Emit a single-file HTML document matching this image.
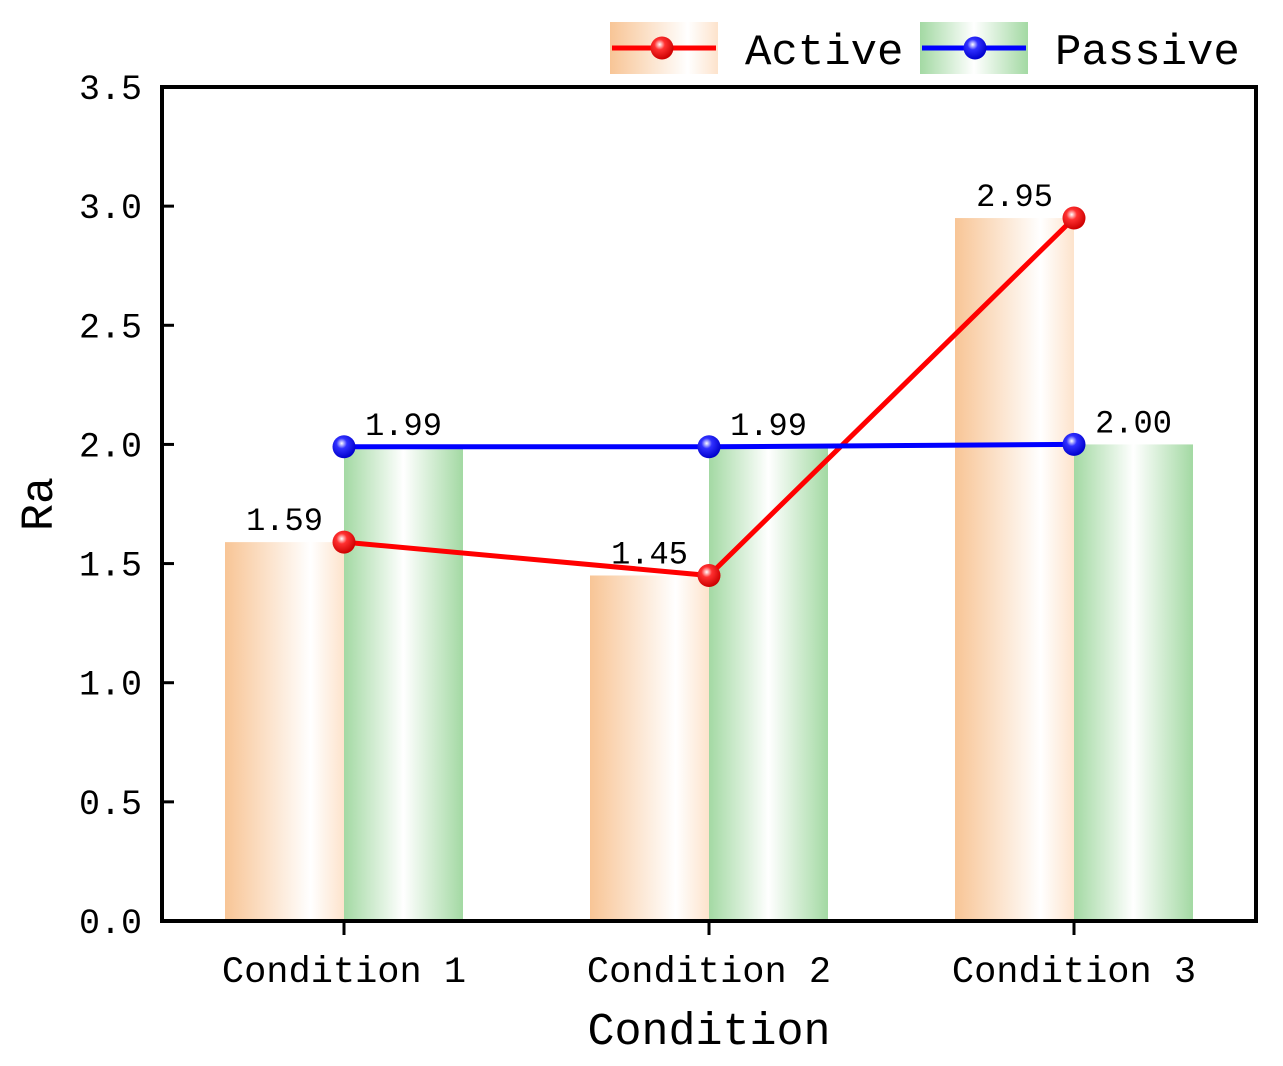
<!DOCTYPE html>
<html><head><meta charset="utf-8"><style>
body{margin:0;background:#fff;}
svg{display:block;font-family:"Liberation Mono","Noto Serif CJK SC",monospace;}
</style></head><body>
<svg id="chart" width="1283" height="1066" viewBox="0 0 1283 1066">
<defs>
<linearGradient id="gOr" x1="0" x2="1" y1="0" y2="0"><stop offset="0" stop-color="#f8c596"/><stop offset="0.72" stop-color="#ffffff"/><stop offset="1" stop-color="#fde3cc"/></linearGradient>
<linearGradient id="gGr" x1="0" x2="1" y1="0" y2="0"><stop offset="0" stop-color="#a3d9a3"/><stop offset="0.5" stop-color="#ffffff"/><stop offset="1" stop-color="#a3d9a3"/></linearGradient>
<radialGradient id="mR" cx="0.4" cy="0.35" r="0.65"><stop offset="0" stop-color="#fff"/><stop offset="0.35" stop-color="#ff3030"/><stop offset="1" stop-color="#c00"/></radialGradient>
<radialGradient id="mB" cx="0.4" cy="0.35" r="0.65"><stop offset="0" stop-color="#fff"/><stop offset="0.35" stop-color="#3030ff"/><stop offset="1" stop-color="#00c"/></radialGradient>
</defs>
<g id="plot"></g>
</svg>
<script>
const categories=["Condition 1","Condition 2","Condition 3"];
const activeVals=[1.59,1.45,2.95];
const passiveVals=[1.99,1.99,2.00];
const yTicks=[0,0.5,1.0,1.5,2.0,2.5,3.0,3.5];
const L=162,R=1256,T=87,B=921,yMax=3.5;
const ns="http://www.w3.org/2000/svg";
const g=document.getElementById('plot');
const y=v=>B-(v/yMax)*(B-T);
const xc=i=>344+i*365;
const bw=119;
function mk(t,a,parent){const e=document.createElementNS(ns,t);for(const k in a)e.setAttribute(k,a[k]);(parent||g).appendChild(e);return e;}
categories.forEach((c,i)=>{
 const a=mk('rect',{x:xc(i)-bw,y:y(activeVals[i]),width:bw,height:B-y(activeVals[i]),fill:'url(#gOr)'});
 
 
 const p=mk('rect',{x:xc(i),y:y(passiveVals[i]),width:bw,height:B-y(passiveVals[i]),fill:'url(#gGr)'});
 
 
});
function line(vals,col,grad,name){
 const pl=mk('polyline',{points:vals.map((v,i)=>xc(i)+','+y(v)).join(' '),fill:'none',stroke:col,'stroke-width':5});
 
 
 vals.forEach((v,i)=>{
  const c=mk('circle',{cx:xc(i),cy:y(v),r:11.5,fill:'url(#'+grad+')'});
  
  
 });
}
line(activeVals,'#f00','mR','active');
line(passiveVals,'#00f','mB','passive');
activeVals.forEach((v,i)=>{
 const t=mk('text',{x:xc(i)-bw/2,y:y(v)-12,'font-size':32,'text-anchor':'middle'});t.textContent=v.toFixed(2);
 
 
});
passiveVals.forEach((v,i)=>{
 const t=mk('text',{x:xc(i)+bw/2,y:y(v)-12,'font-size':32,'text-anchor':'middle'});t.textContent=v.toFixed(2);
 
 
});
const fr=mk('rect',{x:L,y:T,width:R-L,height:B-T,fill:'none',stroke:'#000','stroke-width':4});


yTicks.forEach(v=>{
 mk('line',{x1:L,x2:L+12,y1:y(v),y2:y(v),stroke:'#000','stroke-width':3});
 const t=mk('text',{x:L-20,y:y(v)+12,'font-size':35,'text-anchor':'end'});t.textContent=v.toFixed(1);
 
 
});
categories.forEach((c,i)=>{
 mk('line',{x1:xc(i),x2:xc(i),y1:B,y2:B+14,stroke:'#000','stroke-width':3});
 const t=mk('text',{x:xc(i),y:982,'font-size':37,'text-anchor':'middle'});t.textContent=c;
 
 
});
const xt=mk('text',{x:709,y:1044,'font-size':45,'text-anchor':'middle'});xt.textContent='Condition';


const yt=mk('text',{x:0,y:0,'font-size':45,'text-anchor':'middle',transform:'translate(52,504) rotate(-90)'});yt.textContent='Ra';


const lg=mk('g',{});


mk('rect',{x:610,y:22,width:108,height:52,fill:'url(#gOr)'},lg);
mk('line',{x1:612,x2:716,y1:48,y2:48,stroke:'#f00','stroke-width':5},lg);
mk('circle',{cx:662,cy:48,r:11.5,fill:'url(#mR)'},lg);
const t1=mk('text',{x:745,y:64,'font-size':44},lg);t1.textContent='Active';


mk('rect',{x:920,y:22,width:108,height:52,fill:'url(#gGr)'},lg);
mk('line',{x1:922,x2:1026,y1:48,y2:48,stroke:'#00f','stroke-width':5},lg);
mk('circle',{cx:975,cy:48,r:11.5,fill:'url(#mB)'},lg);
const t2=mk('text',{x:1055,y:64,'font-size':44},lg);t2.textContent='Passive';


</script>
</body></html>
